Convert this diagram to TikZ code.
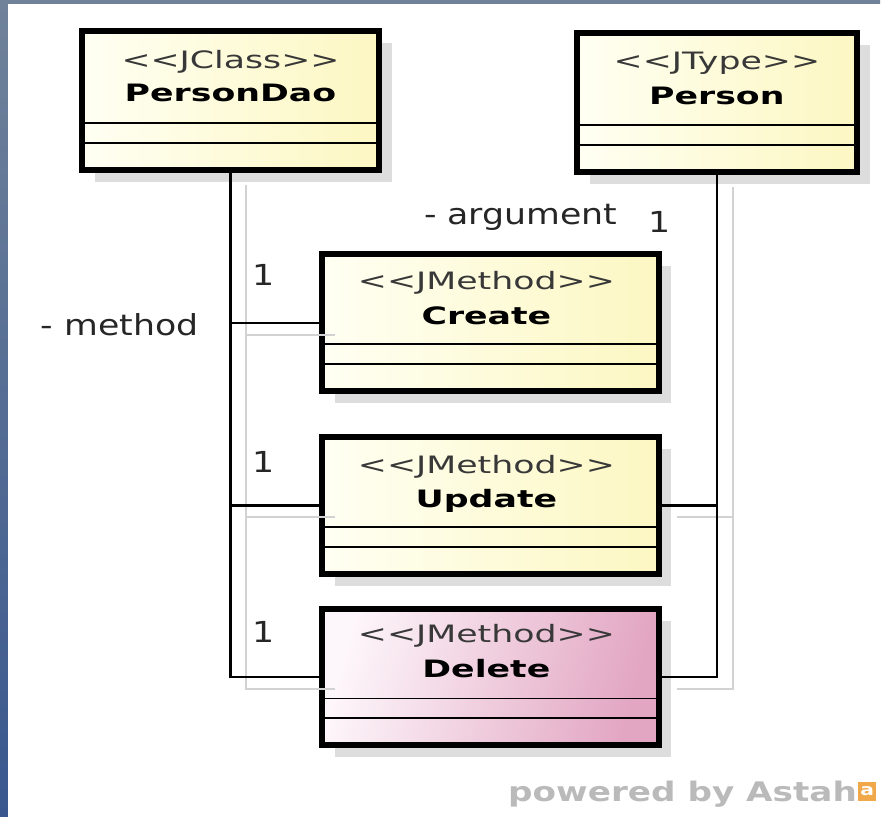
\documentclass[tikz,border=0pt]{standalone}
\usepackage{fontspec}
\newfontfamily\boxfont[FakeStretch=1.45]{DejaVu Sans}
\newfontfamily\endfont[FakeStretch=1.2]{DejaVu Sans}
\newfontfamily\logofont[FakeStretch=1.27]{DejaVu Sans}
\usetikzlibrary{calc,shadows,positioning}

\definecolor{classlight}{HTML}{FFFFF3}
\definecolor{classdark}{HTML}{FCF7C2}
\definecolor{dellight}{HTML}{FDF6FA}
\definecolor{deldark}{HTML}{E2A5C2}
\definecolor{shadowgray}{HTML}{DDDDDD}
\definecolor{linegray}{HTML}{D2D2D2}
\definecolor{frameblue}{HTML}{3A588F}
\definecolor{frametop}{HTML}{70829A}
\definecolor{logoorange}{HTML}{F0A848}

\newcommand\stereotype[1]{<\kern0pt<#1>\kern0pt>}

\tikzset{
  umlbox/.style={draw=black, line width=6pt, rectangle, inner sep=0pt,
    drop shadow={shadow xshift=13pt, shadow yshift=-12pt, fill=shadowgray, opacity=1},
    path picture={
      \draw[line width=1.8pt] ($(path picture bounding box.south west)+(0,-47)$) -- ($(path picture bounding box.south east)+(0,-47)$);
      \draw[line width=1.8pt] ($(path picture bounding box.south west)+(0,-27)$) -- ($(path picture bounding box.south east)+(0,-27)$);
    }},
  classfill/.style={left color=classlight, right color=classdark},
  deletefill/.style={left color=dellight, right color=deldark, shading angle=75},
  methodbox/.style={umlbox, minimum width=337, minimum height=137},
  stereo/.style={anchor=base, inner sep=0pt, text=black!78, font=\boxfont\fontsize{24}{28}\selectfont},
  classname/.style={anchor=base, inner sep=0pt, text=black, font=\boxfont\bfseries\fontsize{24}{28}\selectfont},
  endlabel/.style={anchor=base, inner sep=0pt, text=black!85, font=\endfont\fontsize{29}{33}\selectfont},
  assoc/.style={draw=black, line width=2.5pt},
  assocshadow/.style={draw=linegray, line width=2pt, transform canvas={shift={(16,12)}}},
}

\begin{document}
\begin{tikzpicture}[x=1pt, y=-1pt]
  % frame of the screenshot
  \fill[top color=frametop, bottom color=frameblue] (0,0) rectangle (882,818);
  \fill[white] (8,4) rectangle (884,822);
  \useasboundingbox (0,0) rectangle (882,818);

  % classes
  \node[umlbox, classfill, minimum width=298, minimum height=139] (dao) at (231,100.5) {};
  \node[stereo] (dao-st) at ($(dao.north)+(0,41)$) {\stereotype{JClass}};
  \node[classname] (dao-nm) at ($(dao.north)+(0,74)$) {PersonDao};

  \node[umlbox, classfill, minimum width=281, minimum height=139] (person) at (718.5,102.5) {};
  \node[stereo] (person-st) at ($(person.north)+(0,40)$) {\stereotype{JType}};
  \node[classname] (person-nm) at ($(person.north)+(0,75)$) {Person};

  % methods
  \node[methodbox, classfill] (crt) at (491.5,323.5) {};
  \node[stereo] (crt-st) at ($(crt.north)+(-4,38)$) {\stereotype{JMethod}};
  \node[classname] (crt-nm) at ($(crt.north)+(-4,73)$) {Create};

  \node[methodbox, classfill] (upd) at (491.5,506.5) {};
  \node[stereo] (upd-st) at ($(upd.north)+(-4,40)$) {\stereotype{JMethod}};
  \node[classname] (upd-nm) at ($(upd.north)+(-4,74)$) {Update};

  \node[methodbox, deletefill] (del) at (491.5,678.5) {};
  \node[stereo] (del-st) at ($(del.north)+(-4,37)$) {\stereotype{JMethod}};
  \node[classname] (del-nm) at ($(del.north)+(-4,72)$) {Delete};

  % associations (shadow first)
  \coordinate (daoend) at (dao.south |- del.west);
  \coordinate (personend) at (person.south |- del.east);
  \draw[assocshadow] (dao.south) -- (daoend) -- (del.west);
  \draw[assocshadow] (dao.south |- crt.west) -- (crt.west);
  \draw[assocshadow] (dao.south |- upd.west) -- (upd.west);
  \draw[assocshadow] (person.south) -- (personend) -- (del.east);
  \draw[assocshadow] (person.south |- upd.east) -- (upd.east);

  \draw[assoc] (dao.south) -- (daoend) -- (del.west);
  \draw[assoc] (dao.south |- crt.west) -- (crt.west);
  \draw[assoc] (dao.south |- upd.west) -- (upd.west);
  \draw[assoc] (person.south) -- (personend) -- (del.east);
  \draw[assoc] (person.south |- upd.east) -- (upd.east);

  % role names and multiplicities
  \node[endlabel] (method-role) at (120,336) {- method};
  \node[endlabel] (crt-mult) at ($(dao.south |- crt.west)+(33,-37)$) {1};
  \node[endlabel] (upd-mult) at ($(dao.south |- upd.west)+(33,-33)$) {1};
  \node[endlabel] (del-mult) at ($(dao.south |- del.west)+(33,-35)$) {1};
  \node[endlabel] (argument-role) at ($(person.south)+(-196.5,50)$) {- argument};
  \node[endlabel] (person-mult) at ($(person.south)+(-57,58)$) {1};

  % tool mark
  \node[anchor=base east, inner sep=0pt, text=black!27, font=\logofont\bfseries\fontsize{27}{30}\selectfont] (powered) at (859,803) {powered by Astah};
  \node[anchor=south west, fill=logoorange, minimum width=18, minimum height=19, inner sep=0pt,
        text=white, font=\logofont\bfseries\fontsize{16}{16}\selectfont] (logo) at (860,803) {a};
\end{tikzpicture}
\end{document}
